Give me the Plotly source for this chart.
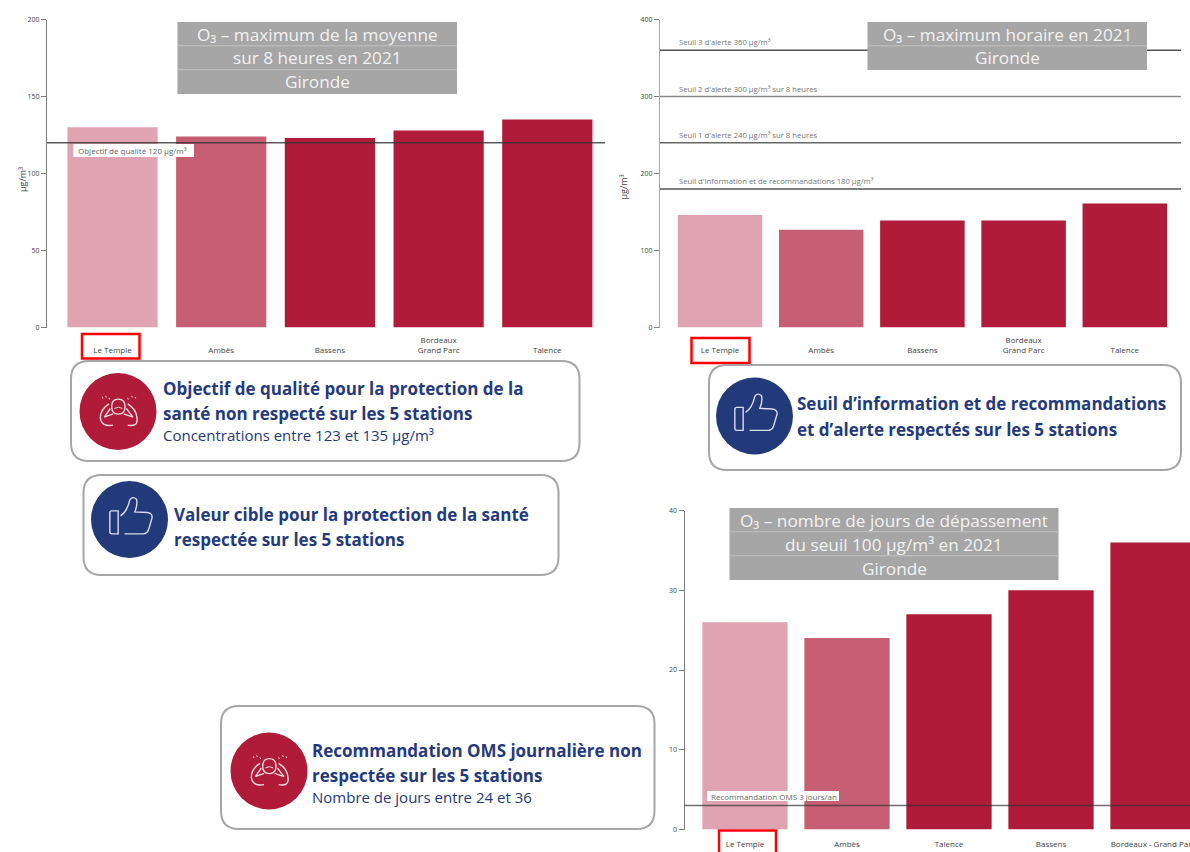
import plotly.graph_objects as go

W, H = 1190, 852

# ---------- data ----------
cats_1 = ["Le Temple", "Ambès", "Bassens", "Bordeaux Grand Parc", "Talence"]
vals_1 = [130, 124, 123, 128, 135]
ticks_1 = [" <br>Le Temple", " <br>Ambès", " <br>Bassens", "Bordeaux<br>Grand Parc", " <br>Talence"]
thr_1 = [120]

cats_2 = ["Le Temple", "Ambès", "Bassens", "Bordeaux Grand Parc", "Talence"]
vals_2 = [146, 127, 139, 139, 161]
ticks_2 = ticks_1
thr_2 = [360, 300, 240, 180]
thr_2_labels = ["Seuil 3 d'alerte 360 µg/m³", "Seuil 2 d'alerte 300 µg/m³ sur 8 heures",
                "Seuil 1 d'alerte 240 µg/m³ sur 8 heures",
                "Seuil d'information et de recommandations 180 µg/m³"]

cats_3 = ["Le Temple", "Ambès", "Talence", "Bassens", "Bordeaux - Grand Parc"]
vals_3 = [26, 24, 27, 30, 36]
thr_3 = [3]

bar_colors = ["#E0A3B2", "#C75F74", "#B01B39", "#B01B39", "#B01B39"]
TXT = "#253A7C"
FONT = "Open Sans"

def fx(x): return x / W
def fy(y): return 1 - y / H
def P(x, y): return f"{fx(x):.5f} {fy(y):.5f}"

fig = go.Figure()
shapes, annots = [], []

def rect(x0, y0, x1, y1, fill=None, line=None, lw=0):
    shapes.append(dict(type="rect", xref="paper", yref="paper", x0=fx(x0), x1=fx(x1), y0=fy(y0), y1=fy(y1),
                       fillcolor=fill or "rgba(0,0,0,0)",
                       line=dict(color=line or "rgba(0,0,0,0)", width=lw), layer="above"))

def hline(x0, x1, y, color, lw=1):
    shapes.append(dict(type="line", xref="paper", yref="paper", x0=fx(x0), x1=fx(x1), y0=fy(y), y1=fy(y),
                       line=dict(color=color, width=lw), layer="above"))

def text(x, y, s, size, color, anchor="left", bold=False, bg=None, font=FONT, vanchor="middle"):
    annots.append(dict(xref="paper", yref="paper", x=fx(x), y=fy(y), text=f"<b>{s}</b>" if bold else s,
                       showarrow=False, xanchor=anchor, yanchor=vanchor, align=anchor,
                       font=dict(family=font, size=size, color=color),
                       bgcolor=bg or "rgba(0,0,0,0)", borderpad=0))

def chart(idx, cats, vals, ticktext, left, right, ytop, ybot, ymax, dtick, c0, step, barw, standoff=6, axcol="#808080"):
    xa = f"xaxis{idx}"; ya = f"yaxis{idx}"
    fig.add_trace(go.Bar(x=cats, y=vals, width=barw, marker=dict(color=bar_colors, line=dict(width=0)),
                         xaxis=f"x{idx}", yaxis=f"y{idx}", showlegend=False))
    fig.update_layout(**{
        xa: dict(domain=[fx(left), fx(right)], anchor=f"y{idx}", type="category", automargin=False,
                 categoryorder="array", categoryarray=cats,
                 range=[(left - c0) / step, (right - c0) / step],
                 showline=False, showgrid=False, zeroline=False, ticks="", tickmode="array",
                 tickvals=cats, ticktext=ticktext, tickangle=0, ticklabelstandoff=standoff,
                 tickfont=dict(family=FONT, size=8, color="#444444")),
        ya: dict(domain=[fy(ybot), fy(ytop)], anchor=f"x{idx}", range=[0, ymax], dtick=dtick, automargin=False,
                 showline=True, linecolor=axcol, linewidth=1, showgrid=False, zeroline=False,
                 ticks="outside", ticklen=5, tickcolor="#808080",
                 tickfont=dict(family=FONT, size=7, color="#444444")),
    })

# ---------- charts ----------
chart("", cats_1, vals_1, ticks_1, 47, 605, 19.5, 327.5, 200, 50, 112.5, 108.7, 0.83)
chart("2", cats_2, vals_2, ticks_2, 660, 1181, 19.5, 327.5, 400, 100, 720, 101.2, 0.835, axcol="#A8A8A8")
chart("3", cats_3, vals_3, cats_3, 684.5, 1190, 510.5, 829.5, 40, 10, 745, 102, 0.836, standoff=8)

def thr(idx, value, color):
    shapes.append(dict(type="line", xref=f"x{idx} domain", yref=f"y{idx}", x0=0, x1=1, y0=value, y1=value,
                       line=dict(color=color, width=1.5), layer="above"))

thr("", thr_1[0], "rgba(50,50,50,0.8)")
for v, c in zip(thr_2, ["#555555", "#8a8a8a", "#666666", "#555555"]):
    thr("2", v, c)
thr("3", thr_3[0], "rgba(50,50,50,0.7)")

# threshold labels
rect(73, 144, 194, 157, fill="white")
text(77, 150.5, "Objectif de qualité 120 µg/m³", 8, "#666666")
rect(707, 791, 839, 801, fill="white")
text(710, 796, "Recommandation OMS 3 jours/an", 8, "#666666")
for y, s in zip([42, 89, 135, 181], thr_2_labels):
    text(678, y, s, 7.7, "#777777")

# axis unit labels
annots.append(dict(xref="paper", yref="paper", x=fx(14), y=fy(165), text="µg/m³", textangle=-90, showarrow=False,
                   font=dict(family=FONT, size=9, color="#444444")))
annots.append(dict(xref="paper", yref="paper", x=fx(623), y=fy(173), text="µg/m³", textangle=-90, showarrow=False,
                   font=dict(family=FONT, size=9, color="#444444")))

# ---------- title boxes ----------
def title_box(x0, x1, y0, rows):
    rh = 24
    rect(x0, y0, x1, y0 + rh * len(rows), fill="#A6A6A6")
    for i, r in enumerate(rows):
        if i:
            hline(x0, x1, y0 + rh * i - 0.2, "#C4C4C4", 1)
        text((x0 + x1) / 2, y0 + rh * i + 12, r, 17.2, "#F2F2F2", anchor="center")

title_box(177.5, 457, 22, ["O₃ – maximum de la moyenne", "sur 8 heures en 2021", "Gironde"])
title_box(867.5, 1147, 22, ["O₃ – maximum horaire en 2021", "Gironde"])
title_box(729.5, 1058.5, 508, ["O₃ – nombre de jours de dépassement", "du seuil 100 µg/m³ en 2021", "Gironde"])

# ---------- red frames ----------
rect(82, 334, 139.5, 358.5, line="#FF0000", lw=2.5)
rect(691.5, 338, 749.5, 363, line="#FF0000", lw=2.5)
rect(719, 830.5, 776, 856, line="#FF0000", lw=2.5)

# ---------- callouts ----------
def round_box(x0, y0, x1, y1, r=18):
    path = ("M " + P(x0 + r, y0) + " L " + P(x1 - r, y0) + " Q " + P(x1, y0) + " " + P(x1, y0 + r) +
            " L " + P(x1, y1 - r) + " Q " + P(x1, y1) + " " + P(x1 - r, y1) +
            " L " + P(x0 + r, y1) + " Q " + P(x0, y1) + " " + P(x0, y1 - r) +
            " L " + P(x0, y0 + r) + " Q " + P(x0, y0) + " " + P(x0 + r, y0) + " Z")
    shapes.append(dict(type="path", xref="paper", yref="paper", path=path, fillcolor="white",
                       line=dict(color="#A6A6A6", width=2), layer="above"))

def circle(cx, cy, r, fill=None, line=None, lw=0):
    shapes.append(dict(type="circle", xref="paper", yref="paper", x0=fx(cx - r), x1=fx(cx + r),
                       y0=fy(cy - r), y1=fy(cy + r), fillcolor=fill or "rgba(0,0,0,0)",
                       line=dict(color=line or "rgba(0,0,0,0)", width=lw), layer="above"))

def icon_path(cx, cy, cmds, color="#D8DCEC", lw=1.4):
    parts = []
    for c in cmds:
        parts.append(c[0])
        pts = c[1:]
        for k in range(0, len(pts), 2):
            parts.append(P(cx + (pts[k] - 99) / 3, cy + (pts[k + 1] - 99) / 3))
    shapes.append(dict(type="path", xref="paper", yref="paper", path=" ".join(parts),
                       line=dict(color=color, width=lw), fillcolor="rgba(0,0,0,0)", layer="above"))

def thumb(cx, cy):
    circle(cx, cy, 38.5, fill="#233A7A")
    icon_path(cx, cy, [("M", 46, 73), ("L", 65, 73), ("L", 65, 142), ("L", 46, 142), ("Q", 40, 142, 40, 136),
                       ("L", 40, 79), ("Q", 40, 73, 46, 73)])
    icon_path(cx, cy, [("M", 72, 88), ("Q", 92, 76, 100, 40), ("Q", 108, 28, 120, 38), ("Q", 124, 55, 115, 76),
                       ("L", 152, 78), ("Q", 170, 80, 166, 96), ("L", 156, 130), ("Q", 152, 142, 140, 142),
                       ("L", 84, 142)])

def stress(cx, cy):
    circle(cx, cy, 38.5, fill="#B01B39")
    c = "#F2D9DE"
    icon_path(cx, cy, [("M", 80, 85), ("Q", 80, 62, 100, 62), ("Q", 120, 62, 120, 85),
                       ("Q", 120, 107, 100, 107), ("Q", 80, 107, 80, 85)], color=c)
    icon_path(cx, cy, [("M", 88, 90), ("Q", 100, 82, 112, 90)], color=c, lw=1)
    icon_path(cx, cy, [("M", 84, 140), ("Q", 50, 146, 46, 118), ("Q", 46, 92, 72, 76), ("M", 58, 116),
                       ("L", 76, 90), ("M", 58, 116), ("L", 84, 106)], color=c)
    icon_path(cx, cy, [("M", 128, 140), ("Q", 160, 146, 156, 118), ("Q", 154, 92, 128, 76), ("M", 144, 116),
                       ("L", 124, 90), ("M", 144, 116), ("L", 116, 106)], color=c)
    for dx, dy in [(52, 55), (62, 52), (72, 58), (128, 58), (140, 52), (150, 55)]:
        icon_path(cx, cy, [("M", dx, dy), ("L", dx + 2, dy + 5)], color=c, lw=1)

BIG, SMALL = 17, 15
round_box(71, 361, 579.5, 461)
stress(118, 411.5)
text(162, 388, "Objectif de qualité pour la protection de la", BIG, TXT, bold=True)
text(162, 413, "santé non respecté sur les 5 stations", BIG, TXT, bold=True)
text(162, 435, "Concentrations entre 123 et 135 µg/m³", SMALL, TXT)

round_box(83.5, 475, 558.5, 575)
thumb(129.5, 519.5)
text(173, 514, "Valeur cible pour la protection de la santé", BIG, TXT, bold=True)
text(173, 539, "respectée sur les 5 stations", BIG, TXT, bold=True)

round_box(709, 365, 1181, 470)
thumb(754.5, 416)
text(796, 404, "Seuil d’information et de recommandations", BIG, TXT, bold=True)
text(796, 429, "et d’alerte respectés sur les 5 stations", BIG, TXT, bold=True)

round_box(221, 706, 654.5, 829)
stress(269, 771)
text(311, 750, "Recommandation OMS journalière non", BIG, TXT, bold=True)
text(311, 775, "respectée sur les 5 stations", BIG, TXT, bold=True)
text(311, 797, "Nombre de jours entre 24 et 36", SMALL, TXT)

fig.update_layout(width=W, height=H, margin=dict(l=0, r=0, t=0, b=0, autoexpand=False), paper_bgcolor="white",
                  plot_bgcolor="white", shapes=shapes, annotations=annots,
                  font=dict(family=FONT))

fig.write_html("out.html", post_script="document.body.style.margin='0';document.body.style.overflow='hidden';",
               config=dict(displayModeBar=False))
